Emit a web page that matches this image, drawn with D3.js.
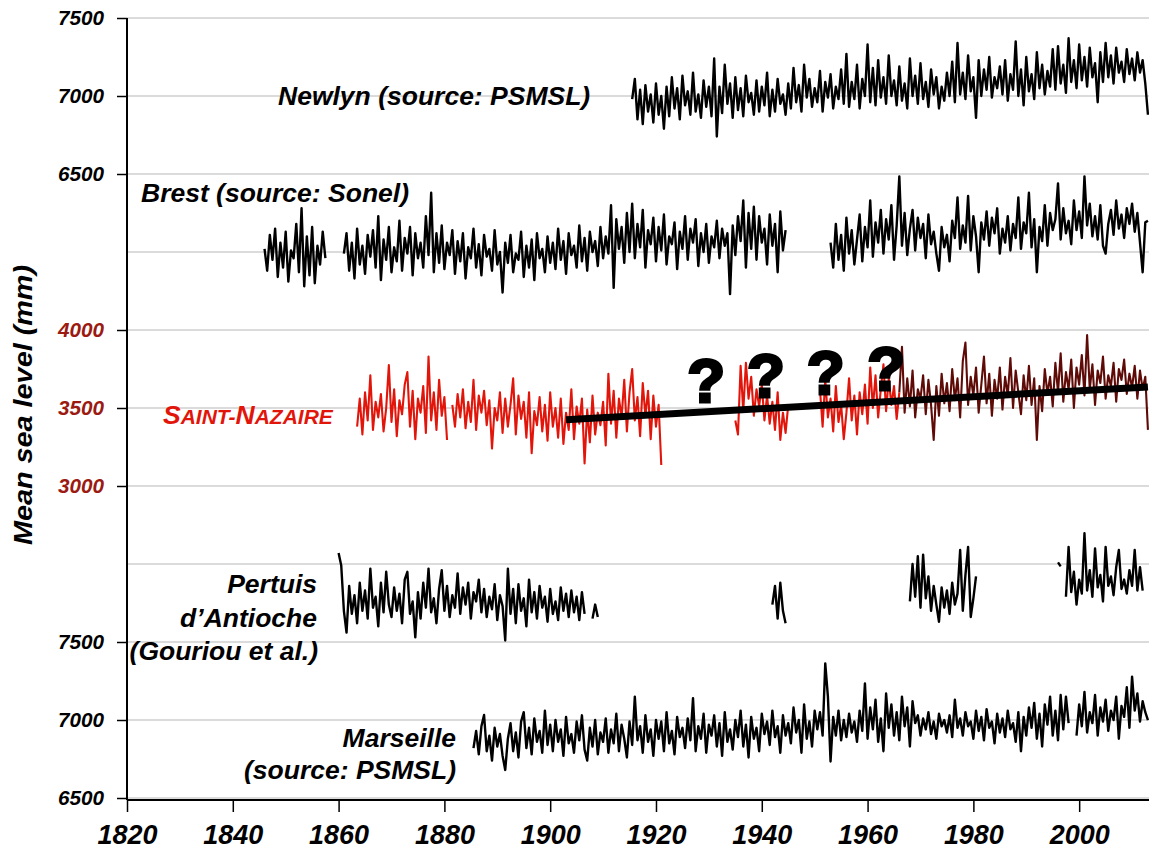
<!DOCTYPE html>
<html><head><meta charset="utf-8">
<script src="https://cdn.jsdelivr.net/npm/d3@7"></script>
<style>
body{margin:0;background:#fff}
svg{display:block}
text{font-family:"Liberation Sans",Arial,Helvetica,sans-serif;font-weight:bold;font-style:italic}
</style>
</head><body>
<svg id="chart" width="1149" height="855"></svg>
<script>
// ---------------- DATA (half-year steps) ----------------
const STEP = 0.5; // years between successive values

// Newlyn, top panel (mm)
const newlynStart = 1915.5;
const newlyn = [6980,7110,6850,7040,6820,7070,6900,7010,6830,7080,
6880,7000,6790,7060,6870,7120,6920,7050,6850,7130,
6940,7030,6880,7150,6900,7010,6860,7100,6930,7060,
6870,7240,6740,7060,6890,7200,6950,7080,6860,7120,
6910,7050,6870,7130,6960,7020,6880,7100,6900,7060,
6940,7150,6870,7040,6900,7110,6950,7010,6880,7080,
6920,7180,6960,7070,6900,7200,6990,7110,6930,7050,
6960,7160,6900,7090,6990,7140,6920,7060,6980,7170,
6950,7270,6930,7090,6980,7200,6920,7110,7000,7330,
6960,7180,6940,7230,6990,7120,6950,7260,7000,7100,
6940,7190,6970,7080,6920,7240,7000,7130,6950,7210,
6980,7090,6930,7170,7010,7120,6920,7060,6970,7150,
7000,7220,6960,7340,7010,7150,6980,7260,7030,7120,
6860,7230,7000,7170,7040,7250,6990,7120,7050,7190,
7010,7230,6970,7140,7040,7350,7000,7170,6940,7250,
7030,7140,6980,7280,7050,7200,7010,7160,7060,7300,
7040,7320,7080,7200,7020,7370,7090,7230,7050,7330,
7100,7250,7060,7310,7120,7210,6960,7280,7090,7340,
7120,7260,7080,7310,7150,7220,7090,7300,7140,7240,
7100,7280,7150,7230,7080,6880];

// Brest, top panel (mm), three runs
const brestAStart = 1846.0;
const brestA = [6020,5880,6110,5950,6150,5840,6060,5900,6130,5810,6010,5960,6180,5870,6280,5780,6100,5850,6160,5800,6040,5920,6130,5960];
const brestBStart = 1861.0;
const brestB = [5990,6120,5880,6060,5830,6150,5920,6040,5860,6110,
5970,6140,5900,6230,5820,6080,5950,6160,5870,6030,
5940,6200,5880,6090,5990,6160,5850,6120,5960,6060,
5900,6230,5980,6380,5870,6120,5930,6170,5890,6060,
5980,6140,5860,6070,5940,6120,5830,6030,5960,6150,
5900,6050,5850,6110,5970,6020,5880,6140,5920,6000,
5740,6060,5930,6110,5870,5990,5950,6130,5840,6040,
5900,6080,5820,6120,5960,6020,5870,6100,5930,6060,
5890,6150,5950,6070,5860,6120,5980,6040,5900,6170,
5940,6090,5880,6130,6000,6070,5910,6160,5960,6100,
5990,6300,5770,6210,6020,6160,5930,6250,6000,6310,
5960,6180,6030,6270,5900,6140,6050,6220,5940,6160,
6010,6240,5920,6100,6050,6190,5890,6130,6020,6230,
5950,6150,6060,6210,5910,6120,6000,6180,5930,6100,
6030,6200,5960,6150,6040,6120,5730,6170,5980,6230,
6070,6330,5900,6250,6020,6290,5950,6230,6060,6150,
5920,6240,6040,6180,5870,6260,6010,6140];
const brestCStart = 1953.0;
const brestC = [6060,5900,6180,5950,6110,5880,6220,5990,6140,5920,
6080,6240,5940,6160,6030,6330,5970,6190,6060,6270,
5990,6210,6080,6300,5950,6170,6485,6040,6250,5980,
6150,6270,6010,6220,6090,6180,5960,6240,6050,6130,
5990,5880,6160,6030,6110,5940,6200,6090,6350,6020,
6170,6060,6360,6010,6230,6100,5870,6190,6080,6260,
6040,6220,6120,6280,5990,6150,6060,6230,6010,6180,
6090,6350,6020,6190,6120,6380,6030,6210,5870,6160,
6070,6300,6040,6250,6140,6210,6440,6080,6280,6120,
6200,6050,6330,6140,6260,6090,6485,6170,6310,6100,
6230,6080,6300,6040,5990,6180,6270,6110,6330,6150,
6240,6090,6280,6180,6310,6130,6250,6060,5870,6190,
6200];

// Saint-Nazaire, middle panel (mm)
const nazaireAStart = 1863.5;
const nazaireA = [3380,3560,3330,3600,3420,3710,3360,3540,3440,3590,
3350,3500,3775,3410,3620,3320,3550,3460,3650,3730,
3380,3610,3300,3560,3470,3640,3340,3830,3420,3600,
3360,3680,3450,3570,3295,null,3520,3380,3590,3440,
3620,3370,3540,3410,3680,3360,3580,3470,3610,3390,
3550,3240,3500,3420,3600,3340,3560,3380,3520,3690,
3330,3580,3430,3540,3310,3600,3210,3480,3390,3570,
3350,3520,3290,3600,3380,3500,3310,3560,3270,3470,
3360,3620,3300,3510,3400,3560,3145,3490,3280,3580,
3330,3470,3390,3540,3260,3720,3400,3610,3310,3560,
3440,3680,3350,3600,3750,3420,3570,3320,3660,3450,
3610,3300,3580,3380,3520,3135];
const nazaireBStart = 1935.0;
const nazaireB = [3420,3330,3770,3480,3790,3560,3700,3450,3620,3510,3650,3420,3580,3400,3540,3360,3600,3295,3470,3340,3520];
const nazaireCStart = 1951.0;
const nazaireC = [3620,3380,3680,3440,3560,3350,3640,3410,3520,3300,3470,3690,3420,3580,3330,3600,3460,3650,3400,3760,3500,3710,3440,3620,3780,3480,3690,3520,3640,3430,3600];
const nazaireDStart = 1966.0; // recent record
const nazaireD = [3600,3893,3470,3690,3510,3740,3440,3620,3560,3710,
3460,3680,3520,3295,3640,3450,3720,3530,3660,3480,
3750,3550,3690,3440,3800,3920,3520,3700,3580,3760,
3470,3650,3830,3530,3720,3450,3680,3560,3760,3490,
3700,3580,3820,3500,3740,3600,3460,3710,3550,3770,
3520,3690,3295,3640,3480,3750,3590,3700,3510,3790,
3600,3850,3540,3730,3620,3810,3500,3760,3650,3840,
3580,3967,3620,3780,3520,3740,3660,3830,3560,3710,
3640,3790,3540,3750,3680,3810,3590,3720,3630,3770,
3560,3740,3620,3700,3360];
// trend line (middle panel)
const trendYears = [1903, 2013];
const trendLevels = [3425, 3635];
// question marks (middle panel, baseline level)
const questionYears = [1929.5, 1940.8, 1952.1, 1963.5];
const questionLevels = [3538, 3571, 3590, 3615];

// Pertuis d'Antioche, bottom panel (mm)
const pertuisAStart = 1860.0;
const pertuisA = [8070,7990,7700,7560,7860,7680,7800,7620,7880,7700,
7830,7650,7970,7720,7790,7600,7880,7690,7950,7740,
7660,7850,7700,7810,7620,7900,7950,7680,7760,7530,
7820,7650,7880,7720,7970,7690,7780,7620,7840,7960,
7700,7860,7660,7800,7720,7940,7680,7850,7740,7880,
7650,7820,7760,7900,7690,7840,7660,7790,7710,7870,
7640,7800,7730,7510,7970,7680,7840,7620,7870,7700,
7780,7600,7900,7690,7820,7650,7860,7720,7790,7630,
7840,7680,7760,7640,7850,7700,7810,7660,7830,7690,
7790,7640,7820,7680];
const pertuisA2Start = 1908.0;
const pertuisA2 = [7650,7740,7660];
const pertuisBStart = 1942.0;
const pertuisB = [7740,7860,7650,7880,7700,7620];
const pertuisCStart = 1968.0;
const pertuisC = [7760,8000,7790,8050,7720,8060,7780,7920,7700,7860,7740,7630,7850,7720,7830,7680,7880,7740,7810,8090,7700,7930,8110,7660,7780,7920];
const pertuisDStart = 1996.0;
const pertuisD = [8010,7985];
const pertuisEStart = 1997.5;
const pertuisE = [7790,8110,7820,7950,7740,7900,7810,8197,7830,7960,7790,8100,7850,7930,7760,8110,7860,7920,7800,7980,8090,7840,7900,7810,7960,7860,8090,7830,7980,7830];

// Marseille, bottom panel (mm)
const marseilleAStart = 1885.5;
const marseilleA = [6820,6930,6780,6960,7032,6800,6900,6740,6950,6830,
6910,6770,6680,6880,6980,6800,6920,6760,6990,7050,
6820,6950,6780,7010,6860,6930,6790,7060,6840,6970,
6800,7000,6860,6940,6770,7020,6850,6910,6790,6990,
6870,7030,6810,6740,6950,6830,7000,6780,6920,6860,
7010,6790,6940,6850,7040,6800,6970,6880,6760,6990,
6840,7150,6870,6960,6790,7030,6860,6940,6770,7000,
6880,6990,6800,7050,6850,6930,6780,7020,6890,6950,
6820,7010,6870,7140,6800,6960,6880,7040,6790,6970,
6900,7030,6830,6980,6770,7050,6860,6940,6810,7000,
6890,7060,6830,6970,6760,7020,6880,6950,6800,7040,
6910,6990,6840,7060,6890,6960,6790,7030,6900,6980,
6850,7080,6920,7000,6790,7100,6880,6990,6830,7060,
6940,7050,6900,7363,7150,6734,7020,6900,7060,6870,
7000,6890,7040,6920,6990,6860,7060,6930,7235,6880,
7080,6940,7130,6860,7010,6800,7170,6950,7100,6900,
7050,6870,7150,6960,7080,6830,7120,6980,7030,6900,
7010,6940,7050,6910,6990,6880,7040,6960,7000,6920,
7030,6890,7130,6950,7010,6900,7050,6960,6990,6880,
7060,6930,7020,6870,7070,6950,6990,6850,7040,6920,
7010,6890,7060,6940,6980,6860,7050,6800,7020,6900,
7080,6950,7110,6880,7040,6830,7100,6970,7150,6900,
7060,6870,7160,6940,7150,6980];
const marseilleBStart = 1999.5;
const marseilleB = [6900,7100,6960,7180,6920,7050,6980,7160,6900,7080,6990,7130,6930,7060,7000,7150,6880,7090,7020,7210,6950,7278,7060,7170,6990,7120,7050,7000];

// Axis tick labels
const xTickYears = [1820,1840,1860,1880,1900,1920,1940,1960,1980,2000];
// gridline levels on the shared (virtual) vertical scale and their printed labels
const yGridLevels = [7500,7000,6500,6000,5500,5000,4500,4000,3500,3000,2500];
const yGridLabels = ["7500","7000","6500","","4000","3500","3000","","7500","7000","6500"];

// ---------------- CHART ----------------
const svg = d3.select("#chart");
svg.append("rect").attr("width",1149).attr("height",855).attr("fill","#fff");

const x = d3.scaleLinear().domain([1820, 2013.2]).range([127, 1149]);
const y = d3.scaleLinear().domain([7500, 2500]).range([18, 798]);

// panel offsets map each panel's own mm onto the shared vertical scale
const PANEL = {top: 0, mid: 1500, bot: -4000};
const BLACK = "#000", RED = "#e2150b", DARKRED = "#5e0b07";

function seg(start, values, panel, color){
  return {panel, color, pts: values.map((v,i)=>({t: start + i*STEP, v}))};
}
const segments = [
  seg(newlynStart, newlyn, "top", BLACK),
  seg(brestAStart, brestA, "top", BLACK),
  seg(brestBStart, brestB, "top", BLACK),
  seg(brestCStart, brestC, "top", BLACK),
  seg(pertuisAStart, pertuisA, "bot", BLACK),
  seg(pertuisA2Start, pertuisA2, "bot", BLACK),
  seg(pertuisBStart, pertuisB, "bot", BLACK),
  seg(pertuisCStart, pertuisC, "bot", BLACK),
  seg(pertuisDStart, pertuisD, "bot", BLACK),
  seg(pertuisEStart, pertuisE, "bot", BLACK),
  seg(marseilleAStart, marseilleA, "bot", BLACK),
  seg(marseilleBStart, marseilleB, "bot", BLACK),
  seg(nazaireDStart, nazaireD, "mid", DARKRED),
  seg(nazaireAStart, nazaireA, "mid", RED),
  seg(nazaireBStart, nazaireB, "mid", RED),
  seg(nazaireCStart, nazaireC, "mid", RED)
];

// gridlines
svg.append("g").selectAll("line").data(yGridLevels).join("line")
  .attr("x1", x(1820)).attr("x2", 1149)
  .attr("y1", d=>y(d)).attr("y2", d=>y(d))
  .attr("stroke", "#cfcfcf").attr("stroke-width", 1.6);

// series
const gS = svg.append("g");
segments.forEach(s=>{
  const off = PANEL[s.panel];
  const line = d3.line().defined(d=>d.v!=null).x(d=>x(d.t)).y(d=>y(d.v+off));
  gS.append("path").datum(s.pts).attr("d", line)
    .attr("fill","none").attr("stroke", s.color)
    .attr("stroke-width", s.color===BLACK ? 2.4 : 2.1)
    .attr("stroke-linejoin","round");
});

// trend line
svg.append("path")
  .datum(trendYears.map((t,i)=>({t, v: trendLevels[i]})))
  .attr("d", d3.line().x(d=>x(d.t)).y(d=>y(d.v+PANEL.mid)))
  .attr("stroke","#000").attr("stroke-width",7).attr("fill","none");

// question marks
svg.append("g").selectAll("text").data(questionYears).join("text")
  .attr("x", d=>x(d)).attr("y", (d,i)=>y(questionLevels[i]+PANEL.mid))
  .attr("text-anchor","middle")
  .style("font-style","normal").style("font-size","62px")
  .attr("stroke","#000").attr("stroke-width",3).attr("fill","#000")
  .text("?");

// axes
const yLabeled = yGridLevels.filter((d,i)=>yGridLabels[i] !== "");
const yAxis = d3.axisLeft(y).tickValues(yLabeled)
  .tickFormat(d=>yGridLabels[yGridLevels.indexOf(d)])
  .tickSize(10).tickSizeOuter(0).tickPadding(13);
const gy = svg.append("g").attr("transform",`translate(${x(1820)},0)`).call(yAxis);
gy.select(".domain").attr("stroke","#000").attr("stroke-width",2).attr("d",`M0,${y(7500)}V800`);
gy.selectAll(".tick line").attr("stroke","#000").attr("stroke-width",1.5);
gy.selectAll(".tick text")
  .style("font-size","19.5px")
  .attr("fill", d => (d>=4000 && d<=5500) ? "#9b1a12" : "#000")
  .attr("textLength",46).attr("lengthAdjust","spacingAndGlyphs");

const xAxis = d3.axisBottom(x).tickValues(xTickYears).tickFormat(d3.format("d"))
  .tickSize(12).tickSizeOuter(0).tickPadding(12);
const gx = svg.append("g").attr("transform","translate(0,800)").call(xAxis);
gx.select(".domain").attr("stroke","#000").attr("stroke-width",2).attr("d",`M${x(1820)},0H1149`);
gx.selectAll(".tick line").attr("stroke","#000").attr("stroke-width",1.5);
gx.selectAll(".tick text").style("font-size","28px").attr("fill","#000")
  .attr("textLength",60).attr("lengthAdjust","spacingAndGlyphs");

// axis title
svg.append("text")
  .attr("transform","translate(32,405) rotate(-90)")
  .attr("text-anchor","middle")
  .style("font-size","26px")
  .attr("textLength",280).attr("lengthAdjust","spacingAndGlyphs")
  .text("Mean sea level (mm)");

// series labels
const lab = (tx, ty, str, anchor) => svg.append("text")
  .attr("x",tx).attr("y",ty).attr("text-anchor",anchor||"start")
  .style("font-size","26.5px").attr("fill","#000").text(str);
lab(278,105,"Newlyn (source: PSMSL)");
lab(141,202,"Brest (source: Sonel)");
lab(317,593,"Pertuis","end");
lab(317,627,"d\u2019Antioche","end");
lab(318,660,"(Gouriou et al.)","end");
lab(456,747,"Marseille","end");
lab(456,779,"(source: PSMSL)","end");

const sn = svg.append("text").attr("x",163).attr("y",424).attr("fill",RED).style("font-size","26.5px");
sn.append("tspan").text("S");
sn.append("tspan").style("font-size","21px").text("AINT-");
sn.append("tspan").text("N");
sn.append("tspan").style("font-size","21px").text("AZAIRE");
</script>
</body></html>
